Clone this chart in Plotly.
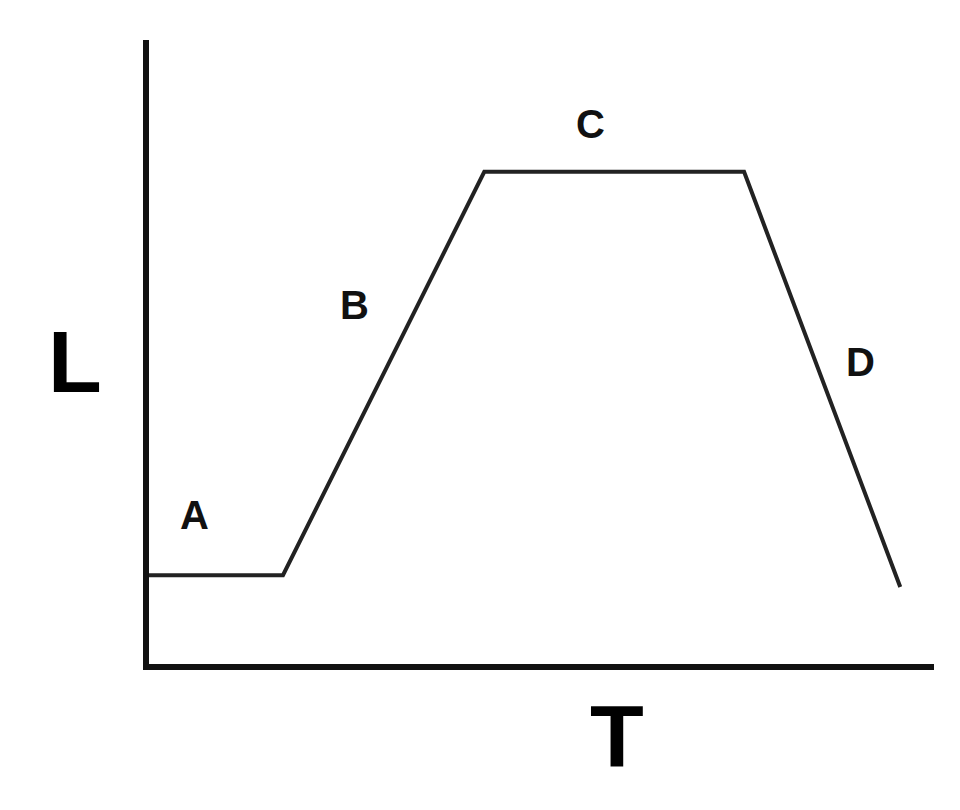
import plotly.graph_objects as go

# Schematic curve (T, L) in abstract units
t_values = [0.0, 1.745, 4.31, 7.62, 9.61]
l_values = [1.17, 1.17, 6.31, 6.31, 1.02]

# Segment labels
seg_labels = ["A", "B", "C", "D"]
seg_label_t = [0.62, 2.66, 5.66, 9.10]
seg_label_l = [1.94, 4.61, 6.92, 3.89]

x_title = "T"
y_title = "L"

fig = go.Figure()
fig.add_trace(go.Scatter(
    x=t_values, y=l_values, mode="lines",
    line=dict(color="#222222", width=4),
    hoverinfo="skip", showlegend=False,
))

annotations = []
for lab, tx, ly in zip(seg_labels, seg_label_t, seg_label_l):
    annotations.append(dict(x=tx, y=ly, xref="x", yref="y", text=lab, showarrow=False,
                            font=dict(family="Liberation Sans, Arial", size=40, color="#111111",
                                      weight="bold"),
                            xanchor="center", yanchor="middle"))
annotations.append(dict(x=-0.094, y=0.484, xref="paper", yref="paper", text=y_title, showarrow=False,
                        font=dict(family="Liberation Sans, Arial", size=88, color="#000000",
                                  weight="bold"),
                        xanchor="center", yanchor="middle"))
annotations.append(dict(x=0.596, y=-0.114, xref="paper", yref="paper", text=x_title, showarrow=False,
                        font=dict(family="Liberation Sans, Arial", size=88, color="#000000",
                                  weight="bold"),
                        xanchor="center", yanchor="middle"))

fig.update_layout(
    width=960, height=810,
    margin=dict(l=141, r=34, t=32, b=154),
    paper_bgcolor="white", plot_bgcolor="white",
    xaxis=dict(range=[0.038, 10.04], showgrid=False, zeroline=False, showticklabels=False,
               ticks="", showline=True, linecolor="#111111", linewidth=6, fixedrange=True),
    yaxis=dict(range=[0.038, 7.99], showgrid=False, zeroline=False, showticklabels=False,
               ticks="", showline=True, linecolor="#111111", linewidth=6, fixedrange=True),
    annotations=annotations,
    showlegend=False,
)

fig.write_html("out.html")
